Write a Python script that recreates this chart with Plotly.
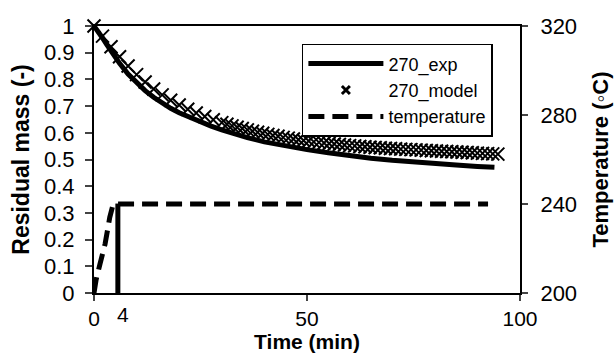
import plotly.graph_objects as go

# Experimental residual mass (270_exp)
exp_time = [0, 1, 2, 3, 4, 6, 8, 10, 12, 14, 16, 18, 20, 22.5, 25, 27.5, 30, 33, 36, 40,
            45, 50, 55, 60, 65, 70, 75, 80, 85, 90, 94]
exp_mass = [1.0, 0.98, 0.955, 0.93, 0.905, 0.86, 0.82, 0.787, 0.758, 0.733, 0.711, 0.692,
            0.675, 0.657, 0.64, 0.625, 0.611, 0.595, 0.582, 0.566, 0.55, 0.537, 0.525,
            0.514, 0.505, 0.497, 0.49, 0.484, 0.479, 0.474, 0.471]

# Model residual mass (270_model)
model_time = [0, 2, 4, 6, 8, 10, 12, 14, 16, 18, 20, 22, 24, 26, 28, 30,
              31.2, 32.4, 33.6, 34.8, 36.0, 37.2, 38.4, 39.6, 40.8, 42.0, 43.2, 44.4,
              45.6, 46.8, 48.0, 49.2, 50.4, 51.6, 52.8, 54.0, 55.2, 56.4, 57.6, 58.8,
              60.0, 61.2, 62.4, 63.6, 64.8, 66.0, 67.2, 68.4, 69.6, 70.8, 72.0, 73.2,
              74.4, 75.6, 76.8, 78.0, 79.2, 80.4, 81.6, 82.8, 84.0, 85.2, 86.4, 87.6,
              88.8, 90.0, 91.2, 92.4, 93.6, 94.8]
model_mass = [1.0, 0.962, 0.922, 0.885, 0.85, 0.818, 0.79, 0.764, 0.742, 0.722, 0.704,
              0.688, 0.674, 0.661, 0.649, 0.638,
              0.632, 0.626, 0.621, 0.616, 0.611, 0.606, 0.602, 0.598, 0.594, 0.590,
              0.587, 0.583, 0.580, 0.577, 0.574, 0.571, 0.569, 0.566, 0.564, 0.562,
              0.560, 0.558, 0.556, 0.554, 0.552, 0.551, 0.549, 0.548, 0.546, 0.545,
              0.544, 0.542, 0.541, 0.540, 0.539, 0.538, 0.537, 0.536, 0.535, 0.534,
              0.533, 0.532, 0.531, 0.530, 0.529, 0.528, 0.527, 0.526, 0.525, 0.524,
              0.523, 0.522, 0.521, 0.520]

# Temperature profile (right axis)
temp_time = [0, 0.5, 1.4, 2.6, 3.7, 4.5, 92.5]
temp_val = [200, 206, 213, 222, 234, 240, 240]

# Vertical marker line at end of heating
marker_time = [5.6, 5.6]
marker_mass = [0, 0.335]

x_ticks = [0, 50, 100]
y_ticks = [0, 0.1, 0.2, 0.3, 0.4, 0.5, 0.6, 0.7, 0.8, 0.9, 1]
y_tick_text = ["0", "0.1", "0.2", "0.3", "0.4", "0.5", "0.6", "0.7", "0.8", "0.9", "1"]
y2_ticks = [200, 240, 280, 320]

FONT = "Liberation Sans, Arial, sans-serif"

fig = go.Figure()

fig.add_trace(go.Scatter(x=exp_time, y=exp_mass, mode="lines", name="270_exp",
                         line=dict(color="black", width=5)))
fig.add_trace(go.Scatter(x=model_time, y=model_mass, mode="markers", name="270_model",
                         showlegend=False,
                         marker=dict(symbol="x-thin-open", size=13, color="black",
                                     line=dict(color="black", width=2)),
                         cliponaxis=False))
# legend-only entry for the model (smaller, bolder cross as in the reference legend)
fig.add_trace(go.Scatter(x=[None], y=[None], mode="markers", name="270_model",
                         marker=dict(symbol="x-thin-open", size=8, color="black",
                                     line=dict(color="black", width=3))))
fig.add_trace(go.Scatter(x=temp_time, y=temp_val, mode="lines", name="temperature",
                         yaxis="y2", line=dict(color="black", width=5, dash="16px,8px")))
fig.add_trace(go.Scatter(x=marker_time, y=marker_mass, mode="lines", showlegend=False,
                         line=dict(color="black", width=5)))

fig.update_layout(
    width=616, height=354,
    margin=dict(l=94, r=96, t=26, b=61),
    paper_bgcolor="white", plot_bgcolor="white",
    font=dict(family=FONT, size=22, color="black"),
    showlegend=True,
    legend=dict(x=0.488, y=0.933, xanchor="left", yanchor="top",
                bordercolor="black", borderwidth=1.5, bgcolor="white",
                font=dict(size=18, family=FONT), itemwidth=75,
                tracegroupgap=0),
    xaxis=dict(range=[0, 100], tickvals=x_ticks, ticks="outside", ticklen=6,
               tickwidth=2, linecolor="black", linewidth=2, showgrid=False,
               zeroline=False, mirror=True, automargin=False,
               ticklabelstandoff=0, tickfont=dict(size=21, family=FONT),
               title=dict(text="<b>Time (min)</b>", standoff=0,
                          font=dict(size=21, family=FONT))),
    yaxis=dict(range=[0, 1], tickvals=y_ticks, ticktext=y_tick_text, ticks="outside",
               ticklen=7, tickwidth=2, linecolor="black", linewidth=2,
               showgrid=False, zeroline=False, mirror=True, automargin=False,
               ticklabelstandoff=6,
               title=dict(text="<b>Residual mass (-)</b>", standoff=8,
                          font=dict(size=23, family=FONT))),
    yaxis2=dict(range=[200, 320], tickvals=y2_ticks, overlaying="y", side="right",
                ticks="outside", ticklen=6, tickwidth=2, linecolor="black",
                linewidth=2, showgrid=False, zeroline=False, automargin=False,
                ticklabelstandoff=8,
                title=dict(text="<b>Temperature (◦C)</b>", standoff=16,
                           font=dict(size=22, family=FONT))),
    annotations=[dict(x=6.8, y=0, xref="x", yref="paper", text="4", showarrow=False,
                      yanchor="top", yshift=-8, font=dict(size=21, family=FONT))],
)

fig.write_html("out.html", config={"displayModeBar": False},
               post_script="document.body.style.margin='0';document.body.style.padding='0';")
